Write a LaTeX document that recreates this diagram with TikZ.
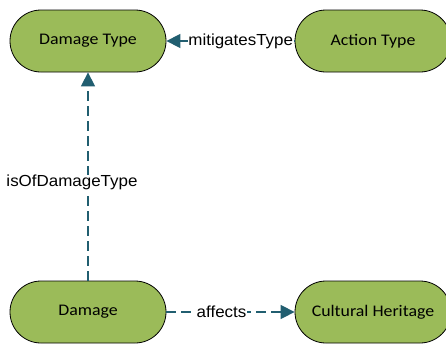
\documentclass[tikz,border=0pt]{standalone}
\usepackage{fontspec}
\usetikzlibrary{arrows.meta}
\newfontfamily\boxfont[FakeStretch=1.1]{Carlito}
\newfontfamily\relfont[FakeStretch=1.06]{Liberation Sans}
\definecolor{leaf}{HTML}{9BBB59}
\definecolor{relteal}{HTML}{215E70}
\tikzset{
  concept/.style={draw=black, line width=0.8pt, fill=leaf,
    minimum width=156pt, minimum height=62pt, rounded corners=31pt,
    font=\boxfont\fontsize{16.2}{19}\selectfont, inner sep=0pt},
  relation/.style={draw=relteal, line width=1.4pt, dash pattern=on 10pt off 5pt,
    -{Triangle[length=14pt,width=14pt]}},
  rellabel/.style={fill=white, inner sep=0.5pt, text=black,
    font=\relfont\fontsize{16}{18}\selectfont}
}
\begin{document}
\begin{tikzpicture}[x=1pt,y=-1pt]
  \useasboundingbox (0,0) rectangle (446,343);
  \begin{scope}
    \clip (0,0) rectangle (446,343);
    \node[concept] (dtype)   at (88,41)   {Damage Type};
    \node[concept] (atype)   at (373,41)  {Action Type};
    \node[concept] (damage)  at (88,312)  {Damage};
    \node[concept] (heritage) at (373,312) {Cultural Heritage};

    \draw[relation] (atype) -- node[rellabel, pos=0.42] {mitigatesType} (dtype);
    \draw[relation] (damage) -- node[rellabel, pos=0.47, xshift=-16pt] {isOfDamageType} (dtype);
    \draw[relation] (damage) -- node[rellabel, pos=0.43] {affects} (heritage);
  \end{scope}
\end{tikzpicture}
\end{document}
